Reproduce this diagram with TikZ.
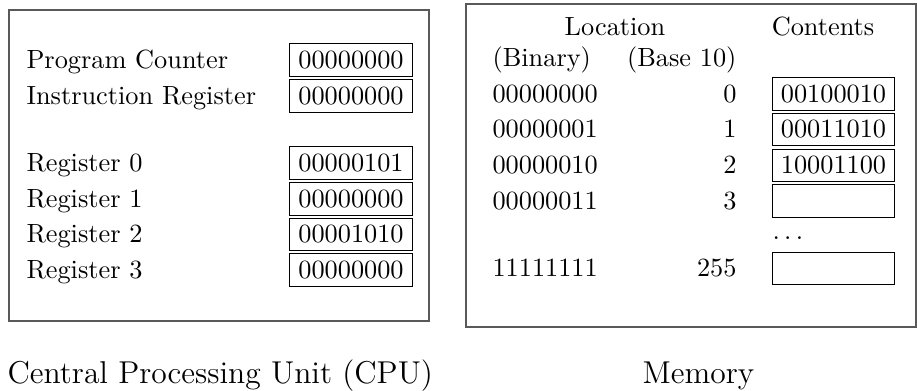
\documentclass[tikz,border=0pt]{standalone}
\begin{document}
\begin{tikzpicture}[x=0.38pt,y=-0.38pt,
  frame/.style={draw=black!65, line width=0.45pt},
  cell/.style={draw, line width=0.45pt, minimum width=46.6pt, minimum height=12.3pt,
    inner sep=0pt, text height=6.45pt, text depth=0pt, anchor=center},
  lblw/.style={inner sep=0pt, anchor=base west},
  lble/.style={inner sep=0pt, anchor=base east},
  lblc/.style={inner sep=0pt, anchor=base},
  caption/.style={inner sep=0pt, anchor=base west, font=\large}]
\useasboundingbox (0,0) rectangle (917,390);
% frames
\coordinate (cpuTL) at (9,10);
\coordinate (cpuBR) at (429,321);
\coordinate (memTL) at (466,4);
\coordinate (memBR) at (916,327);
\draw[frame] (cpuTL) rectangle (cpuBR);
\draw[frame] (memTL) rectangle (memBR);
% column guides
\coordinate (cpuL) at (26,0);
\coordinate (binL) at (492,0);
\coordinate (decR) at (737,0);
% CPU registers
\node[cell] (pc) at (351,60) {00000000};
\node[cell] (ir) at (351,96) {00000000};
\node[cell] (r0) at (351,163) {00000101};
\node[cell] (r1) at (351,199) {00000000};
\node[cell] (r2) at (351,234.5) {00001010};
\node[cell] (r3) at (351,270) {00000000};
\node[lblw] (lpc) at (pc.base -| cpuL) {Program Counter};
\node[lblw] (lir) at (ir.base -| cpuL) {Instruction Register};
\node[lblw] (lr0) at (r0.base -| cpuL) {Register 0};
\node[lblw] (lr1) at (r1.base -| cpuL) {Register 1};
\node[lblw] (lr2) at (r2.base -| cpuL) {Register 2};
\node[lblw] (lr3) at (r3.base -| cpuL) {Register 3};
% Memory headers
\node[lblc] (hloc) at (615,35) {Location};
\node[lblc] (hcon) at (823,35) {Contents};
\node[lblw] (hbin) at (492,66) {(Binary)};
\node[lble] (hdec) at (737,66) {(Base 10)};
% Memory cells
\node[cell] (m0) at (833.5,94) {00100010};
\node[cell] (m1) at (833.5,129.5) {00011010};
\node[cell] (m2) at (833.5,165.5) {10001100};
\node[cell] (m3) at (833.5,201) {};
\node[cell] (m255) at (833.5,268.5) {};
\node[lblw] (dots) at (772,239.5) {$\ldots$};
\node[lblw] (b0) at (m0.base -| binL) {00000000};
\node[lblw] (b1) at (m1.base -| binL) {00000001};
\node[lblw] (b2) at (m2.base -| binL) {00000010};
\node[lblw] (b3) at (m3.base -| binL) {00000011};
\node[lblw] (b255) at (m255.base -| binL) {11111111};
\node[lble] (d0) at (m0.base -| decR) {0};
\node[lble] (d1) at (m1.base -| decR) {1};
\node[lble] (d2) at (m2.base -| decR) {2};
\node[lble] (d3) at (m3.base -| decR) {3};
\node[lble] (d255) at (m255.base -| decR) {255};
% captions
\node[caption] (capcpu) at (7,383) {Central Processing Unit (CPU)};
\node[caption] (capmem) at (642,383) {Memory};
\end{tikzpicture}
\end{document}
